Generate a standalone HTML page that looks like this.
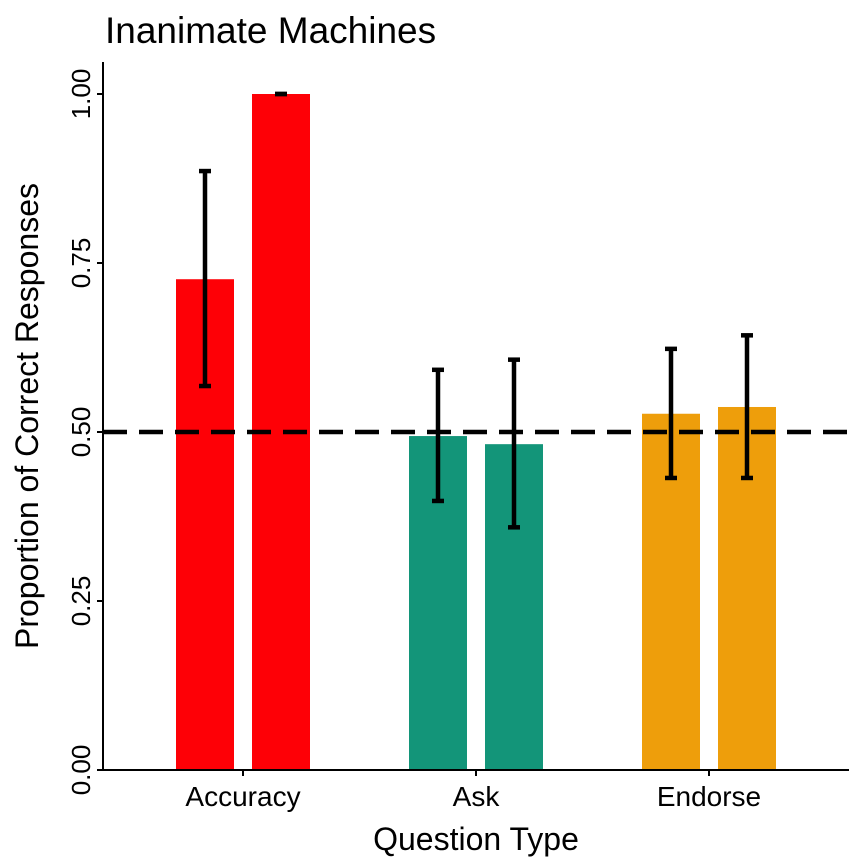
<!DOCTYPE html>
<html><head><meta charset="utf-8"><style>
body{margin:0;background:#fff}
svg{display:block;font-family:"Liberation Sans",Arial,sans-serif}
</style></head><body>
<svg id="chart" width="864" height="864" viewBox="0 0 864 864" xmlns="http://www.w3.org/2000/svg">
<rect width="864" height="864" fill="#fff"/>
<text x="105" y="43" font-size="37" fill="#000">Inanimate Machines</text>
<g id="marks"></g>
<g id="axes"></g>
</svg>
<script>
const categories = ["Accuracy","Ask","Endorse"];
const series1 = [0.726, 0.494, 0.527];
const series2 = [1.0, 0.482, 0.537];
const lower1 = [0.568, 0.398, 0.432];
const upper1 = [0.886, 0.592, 0.623];
const lower2 = [1.0, 0.359, 0.432];
const upper2 = [1.0, 0.607, 0.643];
const colors = ["#FE0006","#139579","#EE9E0B"];
const yTicks = [0, 0.25, 0.5, 0.75, 1.0];
const yTickLabels = ["0.00","0.25","0.50","0.75","1.00"];
const chanceLevel = 0.5;

const NS="http://www.w3.org/2000/svg";
const y = v => 770 - v*676;
const x = i => 243 + i*233;
const marks=document.getElementById('marks'), axes=document.getElementById('axes');
function mk(tag, attrs, parent){const e=document.createElementNS(NS,tag);for(const k in attrs)e.setAttribute(k,attrs[k]);parent.appendChild(e);return e;}

const bw=58, off=38;
categories.forEach((c,i)=>{
  [[series1,lower1,upper1,-off,1],[series2,lower2,upper2,off,2]].forEach(([s,lo,hi,o,n])=>{
    const cx=x(i)+o;
    const r=mk('rect',{x:cx-bw/2,y:y(s[i]),width:bw,height:y(0)-y(s[i]),fill:colors[i]},marks);
    
    
    const g=mk('g',{stroke:'#000','stroke-width':4.5},marks);
    
    
    mk('line',{x1:cx,x2:cx,y1:y(lo[i]),y2:y(hi[i])},g);
    mk('line',{x1:cx-6,x2:cx+6,y1:y(lo[i]),y2:y(lo[i])},g);
    mk('line',{x1:cx-6,x2:cx+6,y1:y(hi[i]),y2:y(hi[i])},g);
  });
});
const dl=mk('line',{x1:103,x2:848,y1:y(chanceLevel),y2:y(chanceLevel),stroke:'#000','stroke-width':4.5,'stroke-dasharray':'24 12'},marks);



const ya=mk('line',{x1:103,x2:103,y1:62,y2:771,stroke:'#000','stroke-width':2},axes);


const xa=mk('line',{x1:102,x2:849,y1:770,y2:770,stroke:'#000','stroke-width':2},axes);


yTicks.forEach((t,i)=>{
  mk('line',{x1:97,x2:103,y1:y(t),y2:y(t),stroke:'#000','stroke-width':2},axes);
  const tx=mk('text',{x:0,y:0,transform:`translate(90,${y(t)}) rotate(-90)`,'text-anchor':'middle','font-size':26,fill:'#000'},axes);
  tx.textContent=yTickLabels[i];
  
  
});
categories.forEach((c,i)=>{
  mk('line',{x1:x(i),x2:x(i),y1:770,y2:776,stroke:'#000','stroke-width':2},axes);
  const tx=mk('text',{x:x(i),y:806,'text-anchor':'middle','font-size':28,fill:'#000'},axes);
  tx.textContent=c;
  
  
});
const xt=mk('text',{x:476,y:850,'text-anchor':'middle','font-size':32,fill:'#000'},axes);
xt.textContent='Question Type';


const yt=mk('text',{x:0,y:0,transform:'translate(38,416) rotate(-90)','text-anchor':'middle','font-size':32,fill:'#000'},axes);
yt.textContent='Proportion of Correct Responses';


</script>
</body></html>
